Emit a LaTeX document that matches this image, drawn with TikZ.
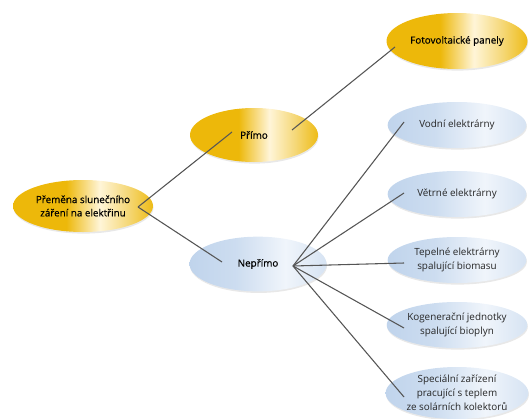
\documentclass[tikz,border=0pt]{standalone}
\usepackage{fontspec}
\setmainfont{Open Sans}
\usetikzlibrary{shapes.geometric,shadows}
\definecolor{sungold}{HTML}{EDB80A}
\definecolor{sunlight}{HTML}{FFF5D8}
\definecolor{skyblue}{HTML}{C0D4EC}
\definecolor{skylight}{HTML}{F0F5FB}
\definecolor{linegray}{HTML}{555555}
\pgfdeclarehorizontalshading{sunshade}{100bp}{color(0bp)=(sungold); color(25bp)=(sungold); color(44bp)=(sungold); color(56bp)=(sunlight); color(66bp)=(sungold!55!white); color(75bp)=(sungold!95!white); color(100bp)=(sungold!95!white)}
\pgfdeclarehorizontalshading{skyshade}{100bp}{color(0bp)=(skyblue); color(25bp)=(skyblue); color(42bp)=(skyblue!80!white); color(60bp)=(skylight); color(75bp)=(skyblue!65!white); color(100bp)=(skyblue!65!white)}
\begin{document}
\begin{tikzpicture}[x=0.75pt,y=-0.75pt,font=\fontsize{7.4}{10.5}\selectfont,
	sun/.style={ellipse,shading=sunshade,inner sep=0pt,align=center,text=black,
		font=\fontsize{7.4}{10}\selectfont\addfontfeatures{FakeBold=0.5},
		drop shadow={shadow xshift=0.4pt,shadow yshift=-1.2pt,opacity=0.18}},
	sky/.style={ellipse,shading=skyshade,inner sep=0pt,align=center,text=black!85,
		minimum width=104pt,minimum height=34.5pt,
		drop shadow={shadow xshift=0.4pt,shadow yshift=-1.2pt,opacity=0.18}},
	link/.style={draw=linegray,line width=0.8pt}]
	\useasboundingbox (0,0) rectangle (531,418);
	\node[sun,minimum width=105pt,minimum height=39pt] (zdroj) at (83,206) {Přeměna slunečního\\záření na elektřinu};
	\node[sun,minimum width=96pt,minimum height=40.5pt] (primo) at (254,135) {Přímo};
	\node[sun,minimum width=105.75pt,minimum height=42pt] (foto) at (457,41) {Fotovoltaické panely};
	\node[sky,minimum width=102.75pt,minimum height=41pt,text=black,
		font=\fontsize{7.4}{10}\selectfont\addfontfeatures{FakeBold=0.5}] (neprimo) at (258,264) {Nepřímo};
	\node[sky] (vodni) at (457,125) {Vodní elektrárny};
	\node[sky] (vetrne) at (457,194) {Větrné elektrárny};
	\node[sky] (tepelne) at (457,260) {Tepelné elektrárny\\spalující biomasu};
	\node[sky] (kogen) at (457,325) {Kogenerační jednotky\\spalující bioplyn};
	\node[sky,minimum height=39pt] (special) at (457,393) {Speciální zařízení\\pracující s teplem\\ze solárních kolektorů};

	\coordinate (uzel) at ([shift={(55,1)}]zdroj.center);
	\coordinate (vejir) at ([shift={(35,2)}]neprimo.center);
	\draw[link] (uzel) -- ([shift={(-22,-3)}]primo.center);
	\draw[link] ([shift={(38,-5)}]primo.center) -- ([shift={(-62,6)}]foto.center);
	\draw[link] (uzel) -- ([shift={(-36,-2)}]neprimo.center);
	\foreach \n/\dy in {vodni/-3,vetrne/-1,tepelne/3,kogen/3,special/4}
		\draw[link] (vejir) -- ([shift={(-53,\dy)}]\n.center);
\end{tikzpicture}
\end{document}
